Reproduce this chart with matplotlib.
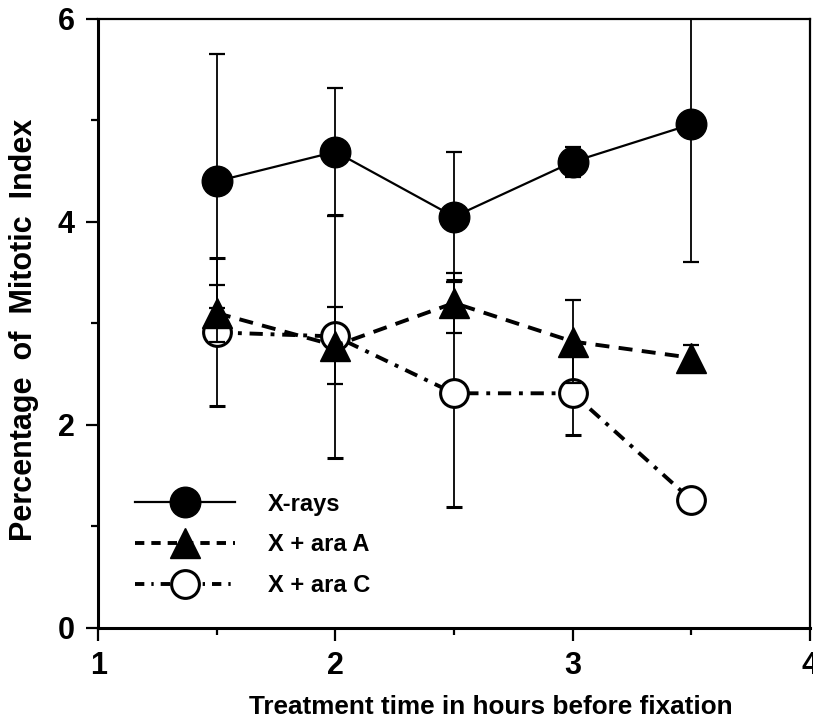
import matplotlib
matplotlib.use("Agg")
import matplotlib.pyplot as plt
from matplotlib.lines import Line2D
from matplotlib.ticker import MultipleLocator

plt.rcParams["font.family"] = ["Liberation Sans", "DejaVu Sans"]
plt.rcParams["font.weight"] = "bold"

# treatment times (h)
hours = [1.5, 2.0, 2.5, 3.0, 3.5]

# X-rays alone
xray_mean = [4.40, 4.69, 4.05, 4.59, 4.96]
xray_err = [1.25, 0.63, 0.64, 0.15, 1.36]

# X-rays + ara A
araA_mean = [3.10, 2.78, 3.20, 2.82, 2.66]
araA_err = [0.28, 0.38, 0.30, 0.41, 0.13]

# X-rays + ara C
araC_mean = [2.91, 2.87, 2.31, 2.31, 1.26]
araC_err = [0.73, 1.20, 1.12, 0.41, 0.0]

fig = plt.figure(figsize=(8.13, 7.24), dpi=100)
ax = fig.add_axes([0.121, 0.133, 0.875, 0.841])

ebar = dict(ecolor="black", elinewidth=1.3, capsize=6, capthick=1.6)

ax.errorbar(hours, araC_mean, yerr=araC_err, color="black", lw=2.8,
            dashes=(3.4, 2.0, 1.0, 2.0), marker="o", ms=20, mfc="white",
            mec="black", mew=2.2, zorder=3, **ebar)
ax.errorbar(hours, araA_mean, yerr=araA_err, color="black", lw=2.8,
            dashes=(3.6, 2.4), marker="^", ms=22, mfc="black", mec="black",
            zorder=4, **ebar)
ax.errorbar(hours, xray_mean, yerr=xray_err, color="black", lw=1.6,
            ls="-", marker="o", ms=22, mfc="black", mec="black",
            zorder=5, **ebar)

ax.set_xlim(1, 4)
ax.set_ylim(0, 6)
ax.xaxis.set_major_locator(MultipleLocator(1))
ax.xaxis.set_minor_locator(MultipleLocator(0.5))
ax.yaxis.set_major_locator(MultipleLocator(2))
ax.yaxis.set_minor_locator(MultipleLocator(1))
ax.tick_params(which="major", direction="out", length=9, width=1.6,
               labelsize=22, pad=8)
ax.tick_params(which="minor", direction="out", length=5, width=1.6)
ax.tick_params(axis="x", pad=8)

for side in ["left", "bottom"]:
    ax.spines[side].set_linewidth(2.2)
for side in ["top", "right"]:
    ax.spines[side].set_linewidth(1.6)

ax.set_xlabel("Treatment time in hours before fixation", fontsize=18.8,
              fontweight="bold")
ax.xaxis.set_label_coords(0.552, -0.110)
ax.set_ylabel("Percentage  of  Mitotic  Index", fontsize=22,
              fontweight="bold")
ax.yaxis.set_label_coords(-0.084, 0.489)

handles = [
    Line2D([], [], color="black", lw=1.6, marker="o", ms=22, mfc="black"),
    Line2D([], [], color="black", lw=2.8, dashes=(2.4, 1.8), marker="^",
           ms=22, mfc="black"),
    Line2D([], [], color="black", lw=2.8, dashes=(2.4, 1.8, 0.6, 1.8),
           marker="o", ms=20, mfc="white", mew=2.2),
]
labels = ["X-rays", "X + ara A", "X + ara C"]
ax.legend(handles, labels, loc="center left", bbox_to_anchor=(0.052, 0.136),
          frameon=False, fontsize=17, handlelength=4.2, handletextpad=1.4,
          labelspacing=0.75, borderpad=0, borderaxespad=0)

fig.savefig("out.png", dpi=100)
